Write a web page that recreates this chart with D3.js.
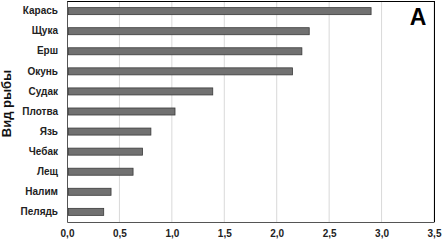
<!DOCTYPE html>
<html><head><meta charset="utf-8">
<script src="https://cdn.jsdelivr.net/npm/d3@7"></script>
<style>body{margin:0;background:#fff}svg{display:block}</style>
</head><body>
<script>
const categories = ["Карась","Щука","Ерш","Окунь","Судак","Плотва","Язь","Чебак","Лещ","Налим","Пелядь"];
const values = [2.9, 2.31, 2.24, 2.15, 1.39, 1.03, 0.80, 0.72, 0.63, 0.42, 0.35];
const xTicks = [0, 0.5, 1.0, 1.5, 2.0, 2.5, 3.0, 3.5];
const yTitle = "Вид рыбы";
const panelLabel = "A";

const W = 442, H = 240;
const m = {left: 67, right: 8, top: 1, bottom: 18};
const svg = d3.select("body").append("svg").attr("width", W).attr("height", H);
const g = svg.append("g").attr("transform", `translate(${m.left},${m.top})`);
const iw = W - m.left - m.right, ih = H - m.top - m.bottom;

const x = d3.scaleLinear().domain([0, 3.5]).range([0, iw]);
const y = d3.scaleBand().domain(categories).range([0, ih]).paddingInner(0.65).paddingOuter(0.33);

// gridlines
g.selectAll(".grid").data(xTicks.slice(1)).enter().append("line")
  .attr("x1", d => x(d)).attr("x2", d => x(d)).attr("y1", 0).attr("y2", ih)
  .attr("stroke", "#d9d9d9").attr("stroke-width", 1);

// frame top/right
g.append("line").attr("x1", 0).attr("x2", iw).attr("y1", 0.5).attr("y2", 0.5).attr("stroke", "#000");
g.append("line").attr("x1", iw + 0.5).attr("x2", iw + 0.5).attr("y1", 0).attr("y2", ih).attr("stroke", "#000");

// bars
g.selectAll(".bar").data(categories).enter().append("rect")
  .attr("x", x(0) + 1.5).attr("y", d => y(d))
  .attr("width", (d, i) => x(values[i]) - 1.5).attr("height", y.bandwidth())
  .attr("fill", "#717171").attr("stroke", "#3a3a3a").attr("stroke-width", 0.8);

// axes
const xAxis = g.append("g").attr("transform", `translate(0,${ih})`)
  .call(d3.axisBottom(x).tickValues(xTicks).tickSize(0).tickPadding(8)
    .tickFormat(d => d3.format(".1f")(d).replace(".", ",")));
xAxis.select(".domain").attr("stroke", "#555");
xAxis.selectAll("text").attr("font-family", "Liberation Sans, Arial, sans-serif").attr("font-size", 10).attr("font-weight", "bold").attr("fill", "#222");

const yAxis = g.append("g")
  .call(d3.axisLeft(y).tickSize(0).tickPadding(9));
yAxis.select(".domain").attr("stroke", "#555");
yAxis.selectAll("text").attr("font-family", "Liberation Sans, Arial, sans-serif").attr("font-size", 10).attr("font-weight", "bold").attr("fill", "#222");

// y title
svg.append("text").attr("transform", `translate(11,${m.top + ih/2 - 8}) rotate(-90)`)
  .attr("text-anchor", "middle").attr("font-family", "Liberation Sans, Arial, sans-serif")
  .attr("font-size", 13).attr("font-weight", "bold").attr("fill", "#111").text(yTitle);

// panel label
svg.append("text").attr("x", 418).attr("y", 25).attr("text-anchor", "middle")
  .attr("font-family", "Liberation Sans, Arial, sans-serif").attr("font-size", 23)
  .attr("font-weight", "bold").attr("fill", "#000").text(panelLabel);
</script>
</body></html>
